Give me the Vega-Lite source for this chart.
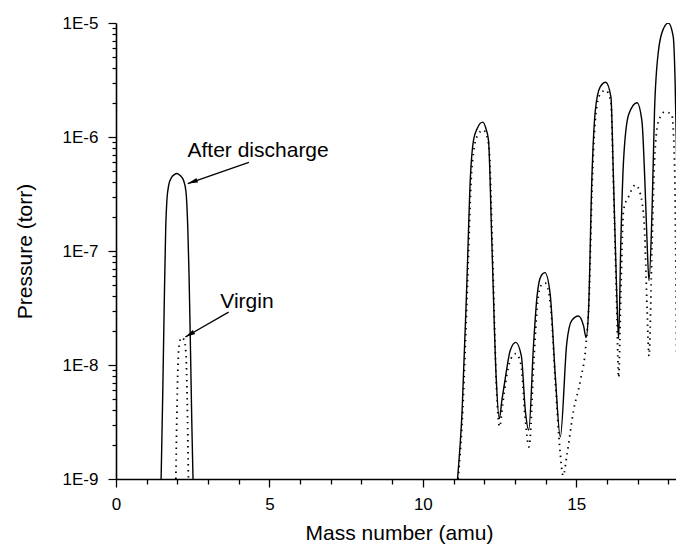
{
  "$schema": "https://vega.github.io/schema/vega-lite/v6.json",
  "autosize": {"type": "none"},
  "padding": {"left": 116, "top": 23, "right": 0, "bottom": 66},
  "width": 560,
  "height": 456,
  "background": "white",
  "config": {"view": {"stroke": null}, "font": "Liberation Sans"},
  "datasets": {
    "after": [
      {"part": "L", "mass": 1.47, "p": 1e-9},
      {"part": "L", "mass": 1.52, "p": 5.0e-9},
      {"part": "L", "mass": 1.57, "p": 3.16e-8},
      {"part": "L", "mass": 1.62, "p": 1.58e-7},
      {"part": "L", "mass": 1.66, "p": 2.82e-7},
      {"part": "L", "mass": 1.72, "p": 3.8e-7},
      {"part": "L", "mass": 1.80, "p": 4.37e-7},
      {"part": "L", "mass": 1.90, "p": 4.68e-7},
      {"part": "L", "mass": 1.99, "p": 4.79e-7},
      {"part": "L", "mass": 2.10, "p": 4.57e-7},
      {"part": "L", "mass": 2.20, "p": 4.17e-7},
      {"part": "L", "mass": 2.28, "p": 3.31e-7},
      {"part": "L", "mass": 2.34, "p": 1.58e-7},
      {"part": "L", "mass": 2.38, "p": 6.3e-8},
      {"part": "L", "mass": 2.43, "p": 1.26e-8},
      {"part": "L", "mass": 2.47, "p": 3.16e-9},
      {"part": "L", "mass": 2.51, "p": 1e-9},
      {"part": "R", "mass": 11.13, "p": 1e-9},
      {"part": "R", "mass": 11.28, "p": 3.98e-9},
      {"part": "R", "mass": 11.44, "p": 5.89e-8},
      {"part": "R", "mass": 11.55, "p": 4.47e-7},
      {"part": "R", "mass": 11.65, "p": 9.33e-7},
      {"part": "R", "mass": 11.78, "p": 1.2e-6},
      {"part": "R", "mass": 11.95, "p": 1.35e-6},
      {"part": "R", "mass": 12.05, "p": 1.2e-6},
      {"part": "R", "mass": 12.14, "p": 9.33e-7},
      {"part": "R", "mass": 12.25, "p": 1.15e-7},
      {"part": "R", "mass": 12.39, "p": 7.76e-9},
      {"part": "R", "mass": 12.49, "p": 3.39e-9},
      {"part": "R", "mass": 12.58, "p": 5.0e-9},
      {"part": "R", "mass": 12.69, "p": 7.76e-9},
      {"part": "R", "mass": 12.85, "p": 1.35e-8},
      {"part": "R", "mass": 13.03, "p": 1.58e-8},
      {"part": "R", "mass": 13.21, "p": 1.2e-8},
      {"part": "R", "mass": 13.34, "p": 3.98e-9},
      {"part": "R", "mass": 13.45, "p": 2.69e-9},
      {"part": "R", "mass": 13.61, "p": 1.55e-8},
      {"part": "R", "mass": 13.72, "p": 3.98e-8},
      {"part": "R", "mass": 13.85, "p": 6.03e-8},
      {"part": "R", "mass": 13.98, "p": 6.46e-8},
      {"part": "R", "mass": 14.15, "p": 4.17e-8},
      {"part": "R", "mass": 14.32, "p": 7.76e-9},
      {"part": "R", "mass": 14.48, "p": 2.34e-9},
      {"part": "R", "mass": 14.69, "p": 1.55e-8},
      {"part": "R", "mass": 14.85, "p": 2.45e-8},
      {"part": "R", "mass": 15.07, "p": 2.69e-8},
      {"part": "R", "mass": 15.24, "p": 2.19e-8},
      {"part": "R", "mass": 15.32, "p": 1.74e-8},
      {"part": "R", "mass": 15.40, "p": 3.02e-8},
      {"part": "R", "mass": 15.51, "p": 4.47e-7},
      {"part": "R", "mass": 15.62, "p": 1.7e-6},
      {"part": "R", "mass": 15.78, "p": 2.75e-6},
      {"part": "R", "mass": 15.96, "p": 3.02e-6},
      {"part": "R", "mass": 16.13, "p": 2.24e-6},
      {"part": "R", "mass": 16.21, "p": 4.47e-7},
      {"part": "R", "mass": 16.32, "p": 4.17e-8},
      {"part": "R", "mass": 16.38, "p": 1.7e-8},
      {"part": "R", "mass": 16.45, "p": 1.15e-7},
      {"part": "R", "mass": 16.54, "p": 6.17e-7},
      {"part": "R", "mass": 16.71, "p": 1.58e-6},
      {"part": "R", "mass": 16.98, "p": 2.0e-6},
      {"part": "R", "mass": 17.14, "p": 1.38e-6},
      {"part": "R", "mass": 17.23, "p": 4.47e-7},
      {"part": "R", "mass": 17.31, "p": 1.15e-7},
      {"part": "R", "mass": 17.37, "p": 5.5e-8},
      {"part": "R", "mass": 17.47, "p": 2.29e-7},
      {"part": "R", "mass": 17.55, "p": 1.7e-6},
      {"part": "R", "mass": 17.68, "p": 5.75e-6},
      {"part": "R", "mass": 17.84, "p": 8.91e-6},
      {"part": "R", "mass": 18.00, "p": 1.0e-5},
      {"part": "R", "mass": 18.16, "p": 7.59e-6},
      {"part": "R", "mass": 18.22, "p": 3.16e-6},
      {"part": "R", "mass": 18.28, "p": 5.0e-7}
    ],
    "virgin": [
      {"part": "L", "mass": 1.95, "p": 1e-9},
      {"part": "L", "mass": 1.98, "p": 3.2e-9},
      {"part": "L", "mass": 2.02, "p": 1.0e-8},
      {"part": "L", "mass": 2.07, "p": 1.58e-8},
      {"part": "L", "mass": 2.14, "p": 1.74e-8},
      {"part": "L", "mass": 2.22, "p": 1.66e-8},
      {"part": "L", "mass": 2.28, "p": 1.26e-8},
      {"part": "L", "mass": 2.32, "p": 5.0e-9},
      {"part": "L", "mass": 2.36, "p": 1e-9},
      {"part": "R", "mass": 11.15, "p": 1e-9},
      {"part": "R", "mass": 11.30, "p": 3.98e-9},
      {"part": "R", "mass": 11.46, "p": 5.62e-8},
      {"part": "R", "mass": 11.57, "p": 3.98e-7},
      {"part": "R", "mass": 11.67, "p": 7.94e-7},
      {"part": "R", "mass": 11.80, "p": 1.05e-6},
      {"part": "R", "mass": 11.97, "p": 1.15e-6},
      {"part": "R", "mass": 12.07, "p": 1.05e-6},
      {"part": "R", "mass": 12.16, "p": 7.94e-7},
      {"part": "R", "mass": 12.27, "p": 1.0e-7},
      {"part": "R", "mass": 12.40, "p": 6.31e-9},
      {"part": "R", "mass": 12.50, "p": 2.88e-9},
      {"part": "R", "mass": 12.60, "p": 4.47e-9},
      {"part": "R", "mass": 12.70, "p": 7.08e-9},
      {"part": "R", "mass": 12.86, "p": 1.12e-8},
      {"part": "R", "mass": 13.03, "p": 1.26e-8},
      {"part": "R", "mass": 13.20, "p": 1.0e-8},
      {"part": "R", "mass": 13.33, "p": 3.55e-9},
      {"part": "R", "mass": 13.46, "p": 1.91e-9},
      {"part": "R", "mass": 13.62, "p": 1.12e-8},
      {"part": "R", "mass": 13.74, "p": 3.55e-8},
      {"part": "R", "mass": 13.86, "p": 5.01e-8},
      {"part": "R", "mass": 13.98, "p": 5.25e-8},
      {"part": "R", "mass": 14.15, "p": 3.55e-8},
      {"part": "R", "mass": 14.33, "p": 6.31e-9},
      {"part": "R", "mass": 14.47, "p": 1.78e-9},
      {"part": "R", "mass": 14.57, "p": 1.07e-9},
      {"part": "R", "mass": 14.70, "p": 1.66e-9},
      {"part": "R", "mass": 14.91, "p": 3.98e-9},
      {"part": "R", "mass": 15.13, "p": 7.24e-9},
      {"part": "R", "mass": 15.32, "p": 1.55e-8},
      {"part": "R", "mass": 15.42, "p": 3.98e-8},
      {"part": "R", "mass": 15.52, "p": 3.98e-7},
      {"part": "R", "mass": 15.63, "p": 1.51e-6},
      {"part": "R", "mass": 15.79, "p": 2.4e-6},
      {"part": "R", "mass": 15.96, "p": 2.57e-6},
      {"part": "R", "mass": 16.13, "p": 2.0e-6},
      {"part": "R", "mass": 16.21, "p": 3.98e-7},
      {"part": "R", "mass": 16.32, "p": 3.16e-8},
      {"part": "R", "mass": 16.38, "p": 7.76e-9},
      {"part": "R", "mass": 16.45, "p": 3.98e-8},
      {"part": "R", "mass": 16.54, "p": 2.29e-7},
      {"part": "R", "mass": 16.71, "p": 3.02e-7},
      {"part": "R", "mass": 16.93, "p": 3.8e-7},
      {"part": "R", "mass": 17.09, "p": 3.16e-7},
      {"part": "R", "mass": 17.22, "p": 1.62e-7},
      {"part": "R", "mass": 17.31, "p": 3.02e-8},
      {"part": "R", "mass": 17.37, "p": 1.2e-8},
      {"part": "R", "mass": 17.47, "p": 1.15e-7},
      {"part": "R", "mass": 17.55, "p": 6.17e-7},
      {"part": "R", "mass": 17.68, "p": 1.38e-6},
      {"part": "R", "mass": 17.89, "p": 1.66e-6},
      {"part": "R", "mass": 18.11, "p": 1.58e-6},
      {"part": "R", "mass": 18.20, "p": 6.31e-7},
      {"part": "R", "mass": 18.27, "p": 1.26e-8}
    ],
    "labels": [
      {"text": "After discharge", "mass": 2.33, "p": 7.48e-7},
      {"text": "Virgin", "mass": 3.40, "p": 3.55e-8}
    ],
    "arrows": [
      {"name": "after", "mass": 4.33, "p": 6.0e-7, "mass2": 2.34, "p2": 3.9e-7},
      {"name": "virgin", "mass": 3.67, "p": 2.91e-8, "mass2": 2.26, "p2": 1.76e-8}
    ]
  },
  "encoding": {
    "x": {
      "field": "mass",
      "type": "quantitative",
      "scale": {"domain": [0, 18.25], "nice": false, "zero": false},
      "axis": {
        "title": "Mass number (amu)",
        "values": [0,1,2,3,4,5,6,7,8,9,10,11,12,13,14,15,16,17,18],
        "labelExpr": "datum.value % 5 === 0 ? datum.label : ''",
        "tickSize": {"condition": {"test": "datum.value % 5 === 0", "value": 8}, "value": 5},
        "labelPadding": 9,
        "labelFontSize": 17,
        "labelColor": "black",
        "labelFlush": false,
        "labelOverlap": false,
        "titleFontSize": 21,
        "titleFontWeight": "normal",
        "titleColor": "black",
        "titleX": 283,
        "titleY": 54,
        "titleAlign": "center",
        "titleBaseline": "middle",
        "domainColor": "black",
        "domainWidth": 1.6,
        "tickColor": "black",
        "tickWidth": 1.3,
        "grid": false
      }
    },
    "y": {
      "field": "p",
      "type": "quantitative",
      "scale": {"type": "log", "domain": [1e-9, 1e-5], "nice": false},
      "axis": {
        "title": "Pressure (torr)",
        "values": [1e-9,2e-9,3e-9,4e-9,5e-9,6e-9,7e-9,8e-9,9e-9,1e-8,2e-8,3e-8,4e-8,5e-8,6e-8,7e-8,8e-8,9e-8,1e-7,2e-7,3e-7,4e-7,5e-7,6e-7,7e-7,8e-7,9e-7,1e-6,2e-6,3e-6,4e-6,5e-6,6e-6,7e-6,8e-6,9e-6,1e-5],
        "labelExpr": "abs(log(datum.value)/LN10 - round(log(datum.value)/LN10)) < 0.001 ? '1E' + round(log(datum.value)/LN10) : ''",
        "tickSize": {"condition": {"test": "abs(log(datum.value)/LN10 - round(log(datum.value)/LN10)) < 0.001", "value": 8}, "value": 4},
        "labelPadding": 10,
        "labelFontSize": 17,
        "labelColor": "black",
        "labelFlush": false,
        "labelOverlap": false,
        "titleFontSize": 21,
        "titleFontWeight": "normal",
        "titleColor": "black",
        "titleX": -91,
        "titleY": 228,
        "titleAngle": -90,
        "titleAlign": "center",
        "titleBaseline": "middle",
        "domainColor": "black",
        "domainWidth": 1.6,
        "tickColor": "black",
        "tickWidth": 1.2,
        "grid": false
      }
    }
  },
  "layer": [
    {
      "data": {"name": "after"},
      "mark": {"type": "line", "color": "black", "strokeWidth": 1.4, "interpolate": "monotone", "clip": true},
      "encoding": {"detail": {"field": "part"}}
    },
    {
      "data": {"name": "virgin"},
      "mark": {"type": "line", "color": "black", "strokeWidth": 1.8, "strokeDash": [1.4, 4.6], "interpolate": "monotone", "clip": true},
      "encoding": {"detail": {"field": "part"}}
    },
    {
      "data": {"values": [{}]},
      "mark": {"type": "rule", "color": "black", "strokeWidth": 1.6},
      "encoding": {"y": {"datum": 1e-5}, "x": null}
    },
    {
      "data": {"name": "arrows"},
      "mark": {"type": "rule", "color": "black", "strokeWidth": 1.3},
      "encoding": {"x2": {"field": "mass2"}, "y2": {"field": "p2"}}
    },
    {
      "data": {"name": "arrows"},
      "transform": [{"filter": "datum.name === 'after'"}],
      "mark": {"type": "point", "shape": "M0,0L0.6,2.5L-0.6,2.5Z", "filled": true, "color": "black", "opacity": 1, "size": 64, "angle": 250.5},
      "encoding": {"x": {"field": "mass2", "type": "quantitative"}, "y": {"field": "p2", "type": "quantitative"}}
    },
    {
      "data": {"name": "arrows"},
      "transform": [{"filter": "datum.name === 'virgin'"}],
      "mark": {"type": "point", "shape": "M0,0L0.6,2.5L-0.6,2.5Z", "filled": true, "color": "black", "opacity": 1, "size": 64, "angle": 240},
      "encoding": {"x": {"field": "mass2", "type": "quantitative"}, "y": {"field": "p2", "type": "quantitative"}}
    },
    {
      "data": {"name": "labels"},
      "mark": {"type": "text", "align": "left", "baseline": "middle", "fontSize": 21, "color": "black", "font": "Liberation Sans"},
      "encoding": {"text": {"field": "text"}}
    }
  ]
}
